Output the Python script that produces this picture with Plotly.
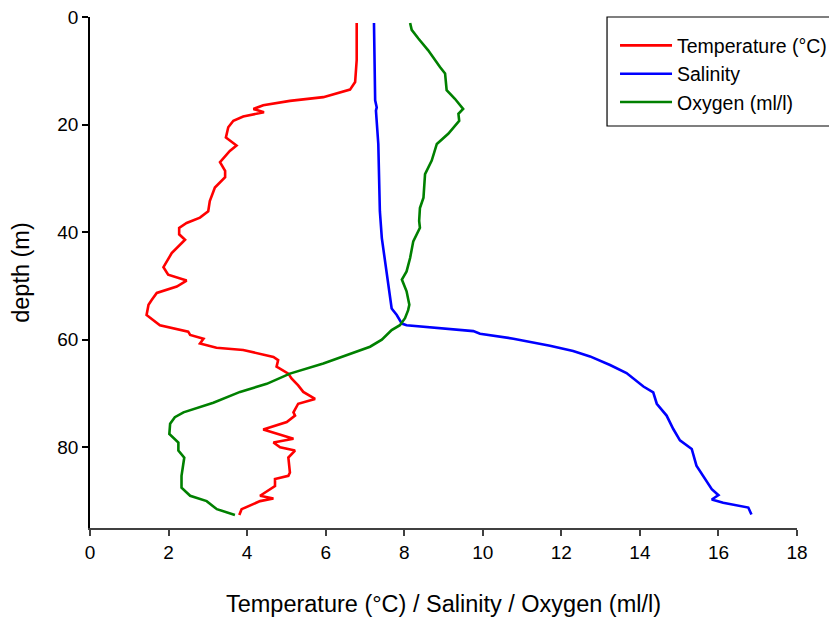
import plotly.graph_objects as go

# Temperature (°C) profile
temp_depth = [1.1, 8.0, 12.1, 13.5, 14.9, 15.6, 16.4, 17.1, 17.7, 18.5, 19.3, 20.5, 22.4, 23.9, 24.9,
              27.0, 28.6, 29.8, 31.7, 34.2, 36.1, 37.3, 38.3, 39.2, 40.4, 41.4, 43.9, 46.5, 47.9,
              49.0, 50.1, 51.3, 52.6, 53.5, 55.4, 57.3, 58.5, 59.1, 59.8, 60.7, 61.5, 61.9, 63.2,
              63.8, 65.0, 66.3, 67.2, 68.5, 69.7, 71.0, 71.9, 73.5, 74.1, 75.3, 76.7, 78.4, 79.1,
              80.0, 80.6, 81.9, 84.7, 85.3, 85.9, 87.2, 89.0, 89.5, 90.0, 91.5, 92.6]
temp_vals = [6.79, 6.79, 6.75, 6.62, 5.94, 5.09, 4.41, 4.16, 4.43, 3.90, 3.65, 3.52, 3.46, 3.73, 3.56,
             3.31, 3.44, 3.44, 3.18, 3.05, 3.01, 2.80, 2.46, 2.27, 2.27, 2.42, 2.08, 1.87, 1.99,
             2.46, 2.21, 1.70, 1.57, 1.49, 1.44, 1.78, 2.50, 2.55, 2.89, 2.80, 3.22, 3.90, 4.67,
             4.79, 4.75, 5.05, 5.13, 5.30, 5.43, 5.73, 5.30, 5.18, 5.22, 5.01, 4.41, 5.18, 4.67,
             4.84, 5.22, 5.05, 5.09, 5.05, 4.71, 4.71, 4.33, 4.67, 4.33, 3.86, 3.80]

# Salinity profile
sal_depth = [1.1, 15.5, 16.8, 17.4, 23.6, 36.1, 41.1, 45.4, 49.8, 54.2, 55.4, 57.0, 57.3, 58.4,
             58.9, 59.8, 61.1, 62.1, 63.1, 64.7, 66.2, 68.7, 69.8, 71.9, 74.1, 76.6, 78.7, 80.3,
             83.4, 85.9, 87.8, 88.9, 89.7, 90.3, 91.2, 92.5]
sal_vals = [7.23, 7.26, 7.30, 7.28, 7.34, 7.38, 7.43, 7.51, 7.60, 7.68, 7.81, 7.94, 8.06, 9.76,
            9.93, 10.78, 11.71, 12.30, 12.73, 13.24, 13.66, 14.09, 14.34, 14.43, 14.68, 14.85, 15.02, 15.32,
            15.44, 15.66, 15.83, 16.00, 15.83, 16.12, 16.76, 16.84]

# Oxygen (ml/l) profile
oxy_depth = [1.1, 2.4, 4.0, 6.2, 9.3, 10.5, 13.6, 15.2, 17.1, 18.0, 19.3, 21.7, 23.6, 26.7, 29.2,
             33.6, 35.5, 37.9, 39.2, 41.7, 44.8, 47.3, 48.8, 51.0, 53.5, 54.5, 56.0, 57.3, 58.2,
             60.0, 61.3, 62.2, 64.4, 66.3, 68.2, 69.7, 71.7, 73.5, 74.4, 75.6, 77.5, 79.1, 80.6,
             81.9, 85.3, 87.5, 89.0, 90.0, 91.5, 92.6]
oxy_vals = [8.15, 8.19, 8.36, 8.61, 8.91, 9.04, 9.08, 9.29, 9.50, 9.38, 9.40, 9.12, 8.83, 8.70, 8.53,
            8.49, 8.40, 8.38, 8.40, 8.23, 8.15, 8.06, 7.94, 8.06, 8.13, 8.10, 8.02, 7.89, 7.68,
            7.43, 7.13, 6.79, 5.94, 5.09, 4.50, 3.82, 3.14, 2.38, 2.16, 2.04, 2.02, 2.25, 2.25,
            2.40, 2.33, 2.33, 2.55, 2.97, 3.23, 3.69]

series_names = ["Temperature (°C)", "Salinity", "Oxygen (ml/l)"]
x_ticks = [0, 2, 4, 6, 8, 10, 12, 14, 16, 18]
y_ticks = [0, 20, 40, 60, 80]

FONT = "Liberation Sans, Arial, sans-serif"

fig = go.Figure()
fig.add_trace(go.Scatter(x=temp_vals, y=temp_depth, mode="lines", name=series_names[0],
                         line=dict(color="#FF0000", width=2.6)))
fig.add_trace(go.Scatter(x=sal_vals, y=sal_depth, mode="lines", name=series_names[1],
                         line=dict(color="#0000FF", width=2.6)))
fig.add_trace(go.Scatter(x=oxy_vals, y=oxy_depth, mode="lines", name=series_names[2],
                         line=dict(color="#008000", width=2.6)))

# legend frame (drawn as a box around the legend area)
fig.add_shape(type="rect", xref="paper", yref="paper",
              x0=0.7313, x1=1.051, y0=0.7867, y1=1.0,
              line=dict(color="black", width=1.2), fillcolor="rgba(0,0,0,0)", layer="above")

fig.update_layout(
    width=829, height=609,
    margin=dict(l=82, r=40, t=9, b=89, autoexpand=False),
    paper_bgcolor="white", plot_bgcolor="white",
    font=dict(family=FONT, size=19, color="black"),
    showlegend=True,
    legend=dict(x=0.7426, y=0.982, xanchor="left", yanchor="top",
                borderwidth=0, bgcolor="rgba(255,255,255,0)",
                font=dict(size=19.5, family=FONT), itemwidth=52,
                tracegroupgap=0),
    xaxis=dict(range=[0, 18], tickvals=x_ticks, showgrid=False, zeroline=False,
               showline=True, linecolor="#404040", linewidth=1.5,
               ticks="outside", ticklen=6, tickcolor="#404040", tickwidth=1.5,
               tickfont=dict(size=19, family=FONT), automargin=False,
               ticklabeloverflow="allow",
               title=dict(text="Temperature (°C) / Salinity / Oxygen (ml/l)",
                          font=dict(size=23.5, family=FONT), standoff=41)),
    yaxis=dict(range=[95, 0], tickvals=y_ticks, showgrid=False, zeroline=False,
               showline=True, linecolor="black", linewidth=1.5,
               ticks="outside", ticklen=6, tickcolor="black", tickwidth=1.5,
               tickfont=dict(size=19, family=FONT), automargin=False,
               ticklabeloverflow="allow",
               title=dict(text="depth (m)", font=dict(size=23.5, family=FONT), standoff=24)),
)

fig.write_html("out.html")
